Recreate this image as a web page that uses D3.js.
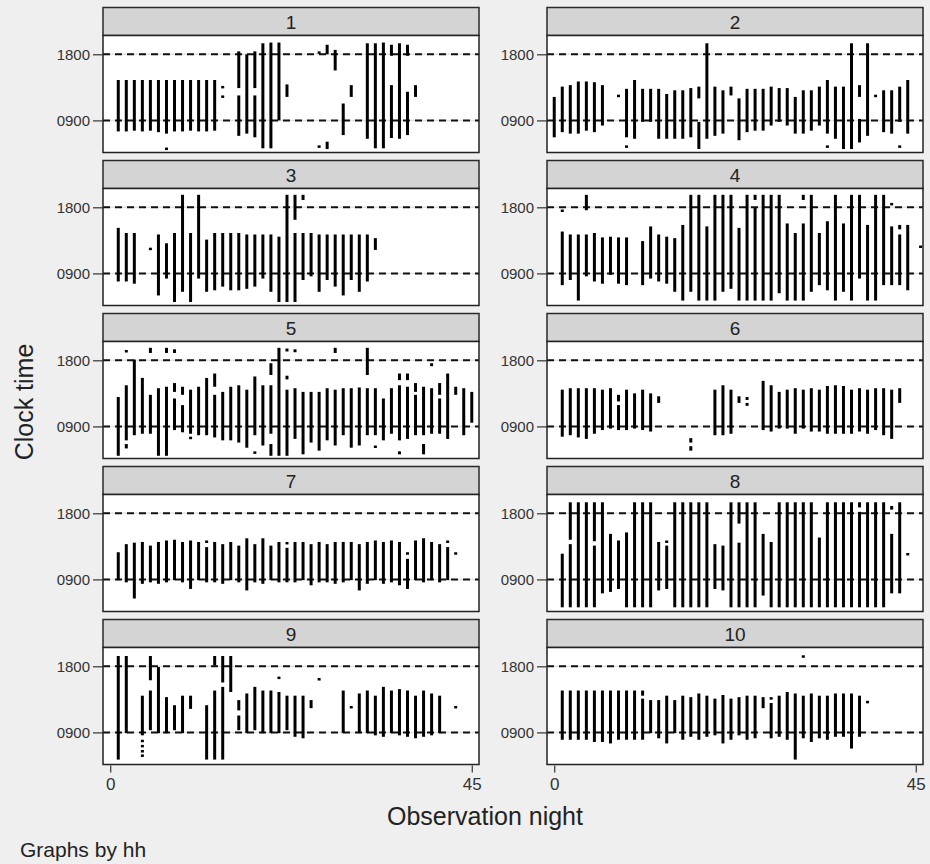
<!DOCTYPE html>
<html>
<head>
<meta charset="utf-8">
<script src="https://cdn.jsdelivr.net/npm/d3@7"></script>
<style>
  body { margin: 0; background: #efefef; }
  svg { display: block; font-family: 'Liberation Sans', Arial, sans-serif; }
</style>
</head>
<body>
<div id="chart"></div>
<script>
// hh panel labels and axis ticks
var hhLabels = ['1', '2', '3', '4', '5', '6', '7', '8', '9', '10'];
var yTickValues = [9, 18];
var yTickLabels = ['0900', '1800'];
var xTickValues = [0, 45];

// each entry: [observation night, clock time from (hours), clock time to (hours)]
var hh1 = [[1,14.5,7.5],[2,14.5,7.5],[3,14.5,7.6],[4,14.5,7.5],[5,14.5,7.6],[6,14.5,7.4],[7,14.5,7.2],[7,5.3,5.0],
    [8,14.5,7.5],[9,14.5,7.5],[10,14.5,7.6],[11,14.5,7.5],[12,14.5,7.5],[13,14.5,7.6],[14,13.7,13.4],[14,12.4,12.1],
    [16,18.4,13.4],[16,12.4,6.9],[17,18.0,7.2],[18,18.4,13.4],[18,12.4,6.7],[19,19.5,5.2],[20,19.6,5.2],[21,19.6,9.0],
    [22,13.9,12.2],[26,18.4,18.1],[26,5.6,5.3],[27,19.3,18.0],[27,6.1,5.1],[28,18.6,15.8],[29,11.3,7.0],[30,13.8,12.2],
    [32,19.5,6.5],[33,19.5,5.2],[34,19.6,5.2],[35,19.3,17.8],[35,13.8,6.6],[36,19.5,6.5],[37,19.3,17.8],[37,12.9,7.0],
    [38,13.8,12.2]];

var hh2 = [[0,12.2,6.7],[1,13.6,7.4],[2,13.8,7.2],[3,14.3,7.2],[4,14.3,7.6],[5,14.2,7.4],[6,13.8,8.3],[8,12.5,12.2],
    [9,13.3,6.7],[9,5.6,5.3],[10,14.5,6.5],[11,13.3,8.8],[12,13.3,8.8],[13,13.3,6.5],[14,12.6,6.5],[15,13.1,6.5],
    [16,13.1,6.5],[17,13.4,6.7],[18,13.6,12.0],[18,8.8,5.1],[19,19.5,6.5],[20,13.6,6.9],[21,13.1,7.2],[22,13.6,12.4],
    [23,12.0,6.3],[24,13.3,7.4],[25,13.3,7.6],[26,13.3,7.6],[27,13.6,8.3],[28,13.4,8.8],[29,13.4,8.3],[30,12.2,7.2],
    [31,13.1,7.2],[32,13.1,7.6],[33,13.6,8.3],[34,14.5,7.2],[34,5.6,5.3],[35,13.6,6.5],[36,13.6,5.1],[37,19.5,5.1],
    [38,13.8,12.2],[38,9.2,6.0],[39,19.5,6.9],[40,12.5,12.2],[41,13.1,7.4],[42,13.1,7.2],[43,13.6,8.8],[43,5.6,5.3],
    [44,14.5,7.2]];

var hh3 = [[1,15.2,7.9],[2,14.5,7.9],[3,14.5,7.6],[5,12.5,12.2],[6,14.3,6.0],[7,13.1,8.3],[8,14.5,5.1],[9,19.7,6.5],
    [10,14.5,5.1],[11,19.7,8.3],[12,13.6,6.5],[13,14.5,6.7],[14,14.5,7.2],[15,14.5,6.7],[16,14.5,6.7],[17,14.3,6.9],
    [18,14.3,7.2],[19,14.3,8.3],[20,14.3,6.5],[21,14.0,5.1],[22,19.7,5.1],[23,19.7,16.3],[23,14.5,5.1],[24,19.7,19.0],
    [24,14.5,8.1],[25,14.5,8.6],[26,14.3,6.5],[27,14.3,8.1],[28,14.3,7.2],[29,14.3,6.0],[30,14.3,8.1],[31,14.3,6.5],
    [32,14.3,7.9],[33,13.8,12.2]];

var hh4 = [[1,17.7,17.4],[1,14.7,7.4],[2,14.3,8.1],[3,14.3,5.3],[4,19.7,17.6],[4,14.3,8.6],[5,14.5,7.9],[6,13.9,7.6],
    [7,14.0,8.8],[8,13.9,7.6],[9,13.9,7.4],[11,13.4,7.4],[12,15.4,8.3],[13,14.3,7.9],[14,14.0,7.6],[15,13.8,6.5],
    [16,15.6,5.3],[17,19.7,6.5],[18,19.7,5.3],[19,15.4,5.3],[20,19.7,5.3],[21,19.7,6.5],[22,19.7,6.9],[23,15.2,5.3],
    [24,19.7,5.3],[25,19.7,19.0],[25,17.9,5.3],[26,19.7,5.3],[27,19.7,5.3],[28,19.7,6.3],[29,15.8,5.3],[30,14.5,5.3],
    [31,19.7,19.0],[31,15.8,5.3],[32,19.7,6.5],[33,14.5,7.4],[34,16.1,6.7],[35,19.7,5.3],[36,15.8,6.5],[37,19.7,5.3],
    [38,19.7,8.3],[39,15.6,5.3],[40,19.7,5.3],[41,19.7,7.4],[42,18.6,18.3],[42,15.4,7.4],[43,15.6,15.0],[43,14.3,7.4],
    [44,15.6,6.7],[45.6,12.8,12.5]];

var hh5 = [[1,13.0,5.0],[2,19.4,19.1],[2,14.6,7.1],[2,6.6,6.0],[3,18.1,7.8],[4,15.6,8.0],[5,19.7,19.0],[5,13.3,8.0],
    [6,14.2,5.0],[7,19.7,19.0],[7,14.4,5.0],[8,19.5,19.0],[8,14.9,13.7],[8,12.8,8.5],[9,14.4,13.3],[9,11.9,8.2],
    [10,14.0,8.0],[10,7.6,7.3],[11,14.4,7.8],[12,15.6,7.8],[13,16.2,14.4],[13,13.3,7.5],[14,13.7,7.1],[15,14.4,7.1],
    [16,14.6,6.8],[17,14.0,6.1],[18,15.8,7.8],[18,5.6,5.3],[19,14.6,6.4],[20,17.6,16.0],[20,14.6,8.0],[20,6.6,5.0],
    [21,19.7,5.0],[22,19.6,19.2],[22,15.9,15.4],[22,14.0,5.0],[23,19.5,19.1],[23,14.2,7.3],[24,13.7,5.2],[25,13.7,6.8],
    [26,13.7,5.7],[27,14.2,7.1],[28,19.7,19.0],[28,14.0,6.4],[29,14.2,7.8],[30,14.2,6.1],[31,14.3,6.4],[32,19.7,16.0],
    [32,14.2,7.8],[33,14.2,7.8],[33,6.4,6.1],[34,12.8,7.1],[35,14.2,8.0],[36,16.2,15.3],[36,14.6,7.1],[36,5.6,5.2],
    [37,16.2,15.3],[37,14.4,7.3],[38,14.9,13.7],[38,13.3,7.8],[39,14.4,7.8],[39,6.6,5.2],[40,17.6,17.2],[40,14.2,8.0],
    [41,14.9,13.3],[41,12.8,8.0],[42,16.2,7.3],[43,14.4,13.3],[44,14.2,7.8],[45,13.7,9.5]];

var hh6 = [[1,14.0,7.6],[2,14.2,7.8],[3,14.2,7.5],[4,14.2,7.3],[5,14.2,8.0],[6,14.0,8.5],[7,14.2,8.7],[8,13.3,12.4],
    [8,11.9,8.5],[9,14.0,8.5],[10,13.5,8.7],[11,14.0,8.5],[12,13.5,8.3],[13,13.1,12.2],[17,7.4,6.8],[17,6.3,5.7],
    [20,14.0,7.8],[21,14.6,7.8],[22,14.0,8.0],[23,13.1,12.2],[24,13.0,12.6],[24,12.2,11.8],[26,15.2,8.5],[27,14.6,8.3],
    [28,13.7,8.7],[29,14.0,8.7],[30,14.2,8.0],[31,14.0,8.7],[32,14.2,8.3],[33,14.0,8.3],[34,14.5,8.0],[35,14.6,8.0],
    [36,14.5,8.0],[37,14.0,8.0],[38,14.2,8.3],[39,14.0,8.0],[40,14.2,8.5],[41,14.2,7.8],[42,14.0,7.3],[43,14.2,12.2]];

var hh7 = [[1,12.7,8.9],[2,13.8,8.6],[3,14.0,6.4],[4,14.1,8.4],[5,13.6,8.6],[6,14.1,8.4],[7,14.3,8.6],[8,14.4,8.9],
    [9,14.1,8.6],[10,14.3,7.7],[11,14.1,8.9],[12,14.3,14.0],[12,13.4,8.6],[13,14.1,8.6],[14,13.8,8.4],[15,14.1,8.9],
    [16,13.6,8.6],[17,14.6,7.5],[18,13.8,8.6],[19,14.6,8.4],[20,13.6,8.9],[21,14.1,8.6],[22,14.1,13.8],[22,13.3,8.6],
    [23,14.1,8.6],[24,14.1,8.9],[25,13.8,8.2],[26,14.1,8.6],[27,13.8,8.6],[28,14.1,8.4],[29,14.1,8.6],[30,14.1,8.9],
    [31,13.8,7.5],[32,14.1,8.4],[33,14.3,8.9],[34,14.1,8.4],[35,14.3,8.6],[36,14.1,8.2],[37,12.7,12.4],[37,11.8,7.7],
    [38,14.3,8.9],[39,14.6,8.6],[40,14.1,8.9],[41,13.8,8.6],[42,14.3,14.0],[42,13.4,8.9],[43,12.7,12.4]];

var hh8 = [[1,12.5,5.2],[2,19.5,14.4],[2,13.8,5.2],[3,19.5,5.2],[4,19.5,5.2],[5,19.5,14.2],[5,13.6,5.2],[6,19.5,7.1],
    [7,15.2,7.3],[8,14.3,7.7],[9,15.4,5.2],[10,19.5,5.2],[11,19.5,5.2],[12,19.5,5.2],[13,14.1,7.5],[14,14.3,14.0],
    [14,13.6,7.7],[15,19.5,5.2],[16,19.5,5.2],[17,19.5,5.2],[18,19.5,5.2],[19,19.5,5.2],[20,13.8,7.7],[21,13.6,7.5],
    [22,19.5,5.2],[23,19.5,16.6],[23,14.0,5.2],[24,19.5,5.2],[25,19.5,5.2],[26,15.2,6.8],[27,14.1,5.2],[28,19.5,5.2],
    [29,19.5,5.2],[30,19.5,5.2],[31,19.5,5.2],[32,19.5,5.2],[33,14.7,5.2],[34,19.5,5.2],[35,19.5,5.2],[36,19.5,5.2],
    [37,19.5,5.2],[38,19.5,18.8],[38,18.2,5.2],[39,19.5,5.2],[40,19.5,5.2],[41,19.5,5.2],[42,19.0,18.5],[42,15.2,7.1],
    [43,19.5,7.1],[44,12.6,12.3]];

var hh9 = [[1,19.4,5.3],[2,19.4,8.9],[4,14.0,8.6],[4,8.0,7.8],[4,7.3,7.1],[4,6.6,6.4],[4,6.0,5.8],[5,19.4,16.1],
    [5,14.7,9.3],[6,17.9,8.9],[7,13.8,8.9],[8,12.7,9.3],[9,14.0,8.9],[10,14.0,12.2],[12,12.7,5.3],[13,19.4,18.1],
    [13,14.7,5.3],[14,19.4,15.8],[14,15.2,5.3],[15,19.4,14.5],[16,13.4,12.0],[16,11.3,9.3],[17,14.3,8.9],[18,15.2,9.3],
    [19,14.7,8.9],[20,14.7,8.9],[21,16.6,16.3],[21,14.5,8.9],[22,14.0,9.3],[23,14.0,8.4],[24,14.0,8.2],[25,13.4,12.3],
    [26,16.4,16.1],[29,14.7,8.9],[30,12.6,12.3],[31,14.3,8.9],[32,14.7,8.9],[33,14.0,8.6],[34,15.2,8.4],[35,14.7,8.9],
    [36,14.9,8.6],[37,14.7,8.4],[38,14.0,8.2],[39,14.7,8.4],[40,14.3,8.6],[41,14.0,8.9],[43,12.6,12.3]];

var hh10 = [[1,14.7,8.0],[2,14.7,8.0],[3,14.7,8.0],[4,14.7,8.0],[5,14.7,7.7],[6,14.7,7.7],[7,14.7,7.5],[8,14.7,8.0],
    [9,14.7,8.0],[10,14.7,8.0],[11,14.7,14.0],[11,13.6,8.0],[12,13.4,8.9],[13,13.4,8.2],[14,14.0,7.5],[15,13.4,8.9],
    [16,14.0,8.0],[17,13.8,8.4],[18,14.3,8.0],[19,14.0,8.4],[20,13.6,8.6],[21,14.1,7.5],[22,13.6,8.0],[23,13.8,8.6],
    [24,14.0,8.0],[25,14.0,8.2],[26,13.8,12.3],[27,13.8,13.5],[27,13.0,8.2],[28,14.0,8.4],[29,14.5,8.0],[30,14.3,5.3],
    [31,19.5,19.2],[31,14.0,8.2],[32,14.3,7.7],[33,14.0,8.2],[34,14.0,8.0],[35,14.3,8.4],[36,14.3,8.4],[37,14.3,6.8],
    [38,14.0,8.4],[39,13.3,13.0]];

var panels = [hh1, hh2, hh3, hh4, hh5, hh6, hh7, hh8, hh9, hh10];

//Layout of the 2 x 5 grid
var width = 930, height = 864;
var colX = [103, 547];
var rowY = [7.5, 160.5, 313.5, 466.5, 619.5];
var panelW = 376, headerH = 28, plotH = 117;
var fontFamily = "'Liberation Sans', Arial, sans-serif";

var x = d3.scaleLinear()
    .domain([-0.9, 45.9])
    .range([0, panelW]);

var y = d3.scaleLinear()
    .domain([4.63, 20.56])
    .range([plotH, 0]);

var svg = d3.select('#chart')
    .append('svg')
    .attr('width', width)
    .attr('height', height);

svg.append('rect')
    .attr('width', width)
    .attr('height', height)
    .style('fill', '#efefef');

panels.forEach(function(data, i){
    var col = i % 2;
    var row = Math.floor(i / 2);

    var g = svg.append('g')
        .attr('transform', 'translate(' + colX[col] + ',' + rowY[row] + ')');

    //Header strip with the hh number
    g.append('rect')
        .attr('width', panelW)
        .attr('height', headerH)
        .style('fill', '#d4d4d4')
        .style('stroke', '#2a2a2a')
        .style('stroke-width', 1.5);
    g.append('text')
        .attr('x', panelW / 2)
        .attr('y', headerH / 2 + 7)
        .attr('text-anchor', 'middle')
        .style('font-size', '19px')
        .style('fill', '#222')
        .text(hhLabels[i]);

    var plot = g.append('g')
        .attr('transform', 'translate(0,' + headerH + ')');

    plot.append('rect')
        .attr('width', panelW)
        .attr('height', plotH)
        .style('fill', '#fff');

    //Light grid and dashed reference lines at 0900 and 1800
    plot.selectAll('.grid')
        .data(yTickValues)
        .enter()
        .append('line')
        .attr('class', 'grid')
        .attr('x1', 0)
        .attr('x2', panelW)
        .attr('y1', function(d){ return y(d); })
        .attr('y2', function(d){ return y(d); })
        .style('stroke', '#e2e2e2')
        .style('stroke-width', 1.5);
    plot.selectAll('.ref')
        .data(yTickValues)
        .enter()
        .append('line')
        .attr('class', 'ref')
        .attr('x1', 0)
        .attr('x2', panelW)
        .attr('y1', function(d){ return y(d); })
        .attr('y2', function(d){ return y(d); })
        .style('stroke', '#111')
        .style('stroke-width', 2)
        .style('stroke-dasharray', '7,5');

    //Observation bars
    plot.selectAll('.bar')
        .data(data)
        .enter()
        .append('line')
        .attr('class', 'bar')
        .attr('x1', function(d){ return x(d[0]); })
        .attr('x2', function(d){ return x(d[0]); })
        .attr('y1', function(d){ return y(d[1]); })
        .attr('y2', function(d){ return Math.max(y(d[2]), y(d[1]) + 2.5); })
        .style('stroke', '#000')
        .style('stroke-width', 3);

    plot.append('rect')
        .attr('width', panelW)
        .attr('height', plotH)
        .style('fill', 'none')
        .style('stroke', '#222')
        .style('stroke-width', 1.5);

    //Y axis
    var yAxis = plot.append('g')
        .call(d3.axisLeft(y)
            .tickValues(yTickValues)
            .tickFormat(function(d, k){ return yTickLabels[k]; })
            .tickSize(10)
            .tickPadding(3));
    yAxis.attr('font-family', fontFamily).attr('font-size', 15);
    yAxis.select('.domain').remove();
    yAxis.selectAll('line').style('stroke', '#333').style('stroke-width', 1.2);
    yAxis.selectAll('text').style('fill', '#333');

    //X axis on the bottom row only
    if(row === 4){
        var xAxis = plot.append('g')
            .attr('transform', 'translate(0,' + (plotH + 1) + ')')
            .call(d3.axisBottom(x)
                .tickValues(xTickValues)
                .tickSize(7)
                .tickPadding(5));
        xAxis.attr('font-family', fontFamily).attr('font-size', 17);
        xAxis.select('.domain').remove();
        xAxis.selectAll('line').style('stroke', '#333').style('stroke-width', 1.2);
        xAxis.selectAll('text').style('fill', '#333');
    }
});

//Axis titles and note
svg.append('text')
    .attr('transform', 'translate(33,402) rotate(-90)')
    .attr('text-anchor', 'middle')
    .style('font-size', '25px')
    .style('fill', '#222')
    .text('Clock time');

svg.append('text')
    .attr('x', 485)
    .attr('y', 825)
    .attr('text-anchor', 'middle')
    .style('font-size', '25px')
    .style('fill', '#222')
    .text('Observation night');

svg.append('text')
    .attr('x', 20)
    .attr('y', 857)
    .style('font-size', '21px')
    .style('fill', '#222')
    .text('Graphs by hh');
</script>
</body>
</html>
